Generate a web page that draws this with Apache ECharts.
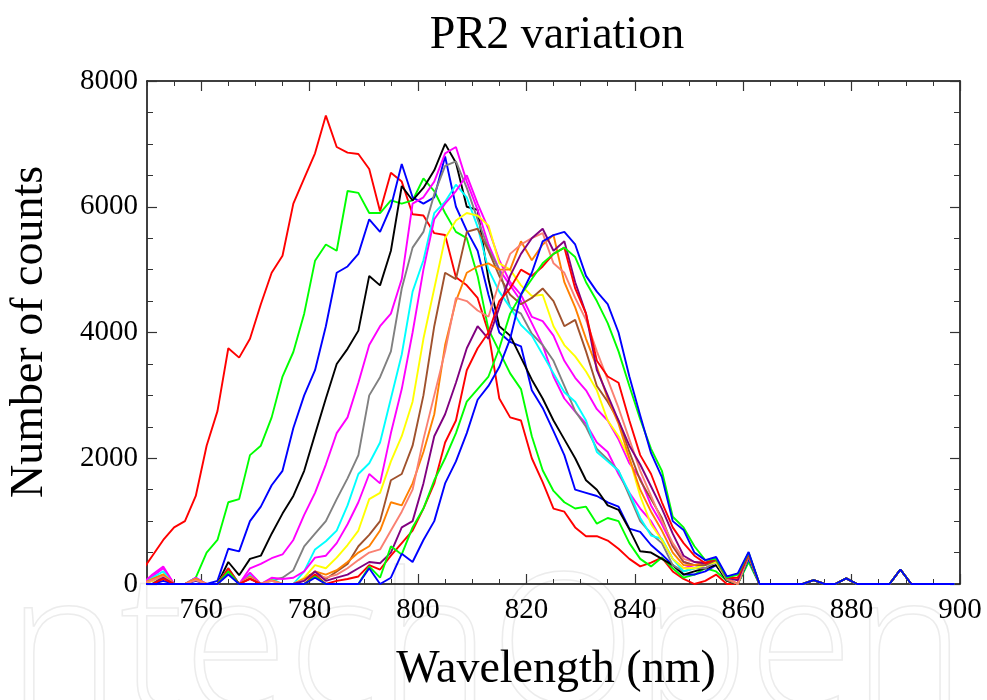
<!DOCTYPE html>
<html>
<head>
<meta charset="utf-8">
<script src="https://cdn.jsdelivr.net/npm/echarts@6/dist/echarts.min.js"></script>
<style>html,body{margin:0;padding:0;background:#fff;}#chart{width:987px;height:700px;}</style>
</head>
<body>
<div id="chart"></div>
<script>
// Wavelength grid (nm) shared by all spectra
const wavelengths = [749, 751, 753, 755, 757, 759, 761, 763, 765, 767, 769,
  771, 773, 775, 777, 779, 781, 783, 785, 787, 789,
  791, 793, 795, 797, 799, 801, 803, 805, 807, 809,
  811, 813, 815, 817, 819, 821, 823, 825, 827, 829,
  831, 833, 835, 837, 839, 841, 843, 845, 847, 849,
  851, 853, 855, 857, 859, 861, 863, 865];
// Common tail (no signal, a few hot-pixel spikes)
const tailWavelengths = [867, 869, 871, 873, 875, 877, 879, 881, 883, 885, 887, 889, 891, 893, 895, 897, 899];
const tailCounts = [0, 0, 0, 60, 0, 0, 90, 0, 0, 0, 0, 230, 0, 0, 0, 0, 0];

const xTickLabels = [760, 780, 800, 820, 840, 860, 880, 900];

const countsRed1 = [200, 450, 700, 900, 1000, 1400, 2200, 2750, 3750, 3600, 3900,
  4450, 4950, 5220, 6050, 6450, 6850, 7450, 6950, 6860, 6840,
  6600, 5930, 6540, 6400, 5880, 5860, 5580, 5550, 4880, 4750,
  4550, 4000, 2950, 2650, 2600, 2000, 1620, 1200, 1150, 900,
  760, 760, 690, 560, 400, 280, 340, 420, 200, 80,
  0, 50, 150, 0, 0, 400, 0, 0];
const countsGreen1 = [0, 80, 150, 0, 0, 100, 500, 700, 1300, 1350, 2050,
  2200, 2650, 3300, 3690, 4300, 5140, 5400, 5300, 6250, 6220,
  5900, 5900, 6100, 6050, 6100, 6450, 6250, 5900, 5600, 5500,
  4900, 4050, 3700, 3350, 3100, 2350, 1810, 1480, 1300, 1200,
  1230, 960, 1050, 1000, 650, 400, 280, 420, 250, 100,
  150, 250, 200, 50, 0, 350, 0, 0];
const countsBlue1 = [0, 0, 50, 0, 0, 50, 0, 50, 560, 520, 1000,
  1230, 1570, 1800, 2480, 3000, 3400, 4100, 4950, 5050, 5250,
  5800, 5600, 6000, 6680, 6150, 6050, 6150, 6800, 6000, 5620,
  5300, 4600, 4000, 3850, 3780, 3080, 2800, 2430, 2050, 1500,
  1450, 1400, 1300, 1230, 880, 830, 620, 470, 300, 150,
  150, 200, 300, 60, 0, 400, 0, 0];
const countsBlack = [0, 0, 100, 0, 0, 0, 0, 0, 350, 140, 400,
  450, 800, 1120, 1400, 1800, 2380, 2950, 3500, 3740, 4030,
  4900, 4750, 5300, 6330, 6100, 6300, 6580, 7000, 6700, 6000,
  5950, 4850, 4100, 3950, 3600, 3250, 2950, 2600, 2300, 2000,
  1650, 1500, 1250, 1180, 870, 520, 500, 400, 300, 150,
  200, 250, 300, 50, 0, 450, 0, 0];
const countsMagenta1 = [0, 120, 250, 0, 0, 100, 0, 0, 200, 0, 250,
  320, 410, 470, 700, 1100, 1450, 1900, 2400, 2650, 3200,
  3800, 4100, 4300, 4850, 6050, 6150, 6400, 6850, 6950, 6400,
  5950, 5400, 5000, 4750, 4500, 4150, 3800, 3300, 2950, 2740,
  2550, 2250, 2100, 1750, 1450, 1200, 1000, 700, 400, 250,
  300, 250, 350, 80, 0, 450, 0, 0];
const countsGray = [0, 50, 150, 0, 0, 80, 0, 0, 250, 0, 150,
  0, 60, 100, 220, 600, 800, 1000, 1350, 1680, 2050,
  3000, 3290, 3700, 4700, 5350, 5600, 6200, 6650, 6720, 6300,
  5800, 5330, 5000, 4400, 4300, 3980, 3800, 3550, 3150, 2750,
  2500, 2150, 1980, 1800, 1400, 1000, 800, 650, 300, 200,
  250, 250, 350, 60, 0, 450, 0, 0];
const countsCyan = [0, 100, 200, 0, 0, 100, 0, 0, 250, 0, 150,
  0, 80, 0, 0, 200, 550, 680, 850, 1250, 1750,
  1920, 2250, 2950, 3650, 4650, 5150, 5900, 6080, 6350, 6150,
  5680, 5000, 4650, 4400, 4120, 3950, 3650, 3350, 3050, 2900,
  2600, 2100, 1950, 1800, 1450, 1050, 770, 720, 400, 200,
  250, 300, 350, 80, 0, 450, 0, 0];
const countsMagenta2 = [0, 150, 280, 0, 0, 100, 0, 0, 220, 0, 180,
  0, 100, 80, 100, 200, 420, 450, 650, 950, 1300,
  1750, 1600, 2400, 3100, 4000, 5000, 5800, 6050, 6250, 6500,
  6050, 5650, 5150, 4800, 4600, 4250, 4180, 3950, 3550, 3280,
  3080, 2780, 2600, 2300, 1920, 1680, 1250, 950, 600, 350,
  300, 300, 380, 80, 0, 450, 0, 0];
const countsYellow = [0, 50, 150, 0, 0, 80, 0, 0, 200, 0, 100,
  0, 50, 0, 0, 100, 300, 250, 420, 620, 850,
  1350, 1450, 1950, 2350, 2900, 3900, 4700, 5500, 5780, 5900,
  5860, 5700, 5100, 5000, 4750, 4580, 4600, 4100, 3800, 3620,
  3380, 3080, 2600, 2350, 2000, 1400, 950, 700, 400, 250,
  250, 300, 350, 80, 0, 450, 0, 0];
const countsBrown = [0, 0, 120, 0, 0, 60, 0, 0, 200, 0, 100,
  0, 0, 0, 0, 60, 200, 80, 200, 320, 600,
  780, 1000, 1650, 1750, 2200, 3000, 4100, 4950, 4850, 5600,
  5650, 5300, 4900, 4600, 4450, 4550, 4700, 4500, 4100, 4200,
  3700, 3150, 2900, 2600, 2100, 1650, 1350, 1050, 600, 350,
  300, 300, 380, 80, 0, 450, 0, 0];
const countsOrange = [0, 80, 150, 0, 0, 80, 0, 0, 200, 0, 120,
  0, 60, 0, 0, 80, 200, 150, 220, 350, 500,
  600, 850, 1300, 1250, 1600, 2100, 2700, 3800, 4500, 4950,
  5050, 5100, 5000, 5000, 5450, 5150, 5400, 5550, 4800, 4400,
  3900, 3450, 2950, 2550, 2000, 1500, 1150, 850, 500, 300,
  300, 350, 400, 90, 0, 480, 0, 0];
const countsSalmon = [0, 60, 120, 0, 0, 60, 0, 0, 180, 0, 100,
  0, 50, 0, 0, 60, 150, 100, 150, 250, 380,
  500, 550, 850, 1150, 1500, 2300, 3000, 3700, 4550, 4500,
  4350, 4250, 4800, 5250, 5400, 5500, 5580, 5100, 4950, 4550,
  4200, 3700, 3250, 2800, 2300, 1800, 1400, 1000, 650, 400,
  350, 350, 400, 90, 0, 480, 0, 0];
const countsPurple = [0, 0, 100, 0, 0, 0, 0, 0, 200, 0, 80,
  0, 0, 0, 0, 50, 200, 50, 100, 150, 250,
  350, 330, 500, 900, 1000, 1600, 2350, 2700, 3200, 3750,
  4100, 3900, 4400, 4900, 5250, 5500, 5650, 5300, 5450, 4800,
  4300, 3400, 3000, 2600, 2200, 1900, 1550, 1200, 800, 450,
  350, 330, 400, 100, 60, 480, 0, 0];
const countsRed2 = [0, 0, 80, 0, 0, 0, 0, 0, 250, 0, 80,
  0, 0, 0, 0, 0, 150, 0, 50, 80, 120,
  300, 230, 450, 650, 850, 1200, 1600, 2250, 2600, 3400,
  3750, 4000, 4500, 4700, 5000, 4900, 5050, 5250, 5350, 4700,
  4300, 3550, 3300, 3200, 2600, 2050, 1750, 1300, 900, 650,
  450, 330, 400, 100, 100, 480, 0, 0];
const countsGreen2 = [0, 0, 0, 0, 0, 0, 0, 0, 200, 0, 0,
  0, 0, 0, 0, 0, 120, 0, 0, 0, 0,
  280, 100, 600, 470, 900, 1200, 1650, 2000, 2400, 2900,
  3100, 3300, 3750, 4300, 4600, 4850, 5100, 5250, 5350, 5200,
  4800, 4500, 4150, 3700, 3150, 2620, 2150, 1800, 1070, 900,
  600, 380, 400, 100, 150, 500, 0, 0];
const countsBlue2 = [0, 0, 0, 0, 0, 0, 0, 0, 150, 0, 0,
  0, 0, 0, 0, 0, 100, 0, 0, 0, 0,
  250, 0, 100, 480, 350, 700, 1000, 1600, 1950, 2400,
  2930, 3150, 3450, 3900, 4600, 4950, 5450, 5550, 5600, 5400,
  4900, 4650, 4450, 4000, 3300, 2680, 2080, 1700, 1000, 860,
  500, 380, 430, 120, 170, 510, 0, 0];

const seriesList = [
  ['#ff0000', countsRed1], ['#00ff00', countsGreen1], ['#0000ff', countsBlue1],
  ['#000000', countsBlack], ['#ff00ff', countsMagenta1], ['#808080', countsGray],
  ['#00ffff', countsCyan], ['#ff00ff', countsMagenta2], ['#ffff00', countsYellow],
  ['#a0522d', countsBrown], ['#ff8000', countsOrange], ['#fa8072', countsSalmon],
  ['#800080', countsPurple], ['#ff0000', countsRed2], ['#00ff00', countsGreen2],
  ['#0000ff', countsBlue2]
];

const allX = wavelengths.concat(tailWavelengths);
const series = seriesList.map(function (s, i) {
  const ys = s[1].concat(tailCounts);
  return {
    type: 'line', name: 'S' + (i + 1), xAxisIndex: 0, yAxisIndex: 0,
    data: allX.map(function (x, k) { return [x, ys[k]]; }),
    showSymbol: false, symbol: 'none', smooth: false,
    lineStyle: { color: s[0], width: 1.9 }, itemStyle: { color: s[0] },
    animation: false, z: 2 + i
  };
});

const serif = '"Liberation Serif", "Times New Roman", serif';
const axisBase = { min: 750, max: 900, type: 'value', splitLine: { show: false } };

const chart = echarts.init(document.getElementById('chart'), null, { renderer: 'canvas' });
chart.setOption({
  animation: false,
  backgroundColor: '#fff',
  grid: { left: 147, right: 27, top: 81, bottom: 116, containLabel: false },
  xAxis: [
    Object.assign({}, axisBase, {
      position: 'bottom', interval: 5,
      axisLine: { show: true, lineStyle: { color: '#000', width: 1.5 } },
      axisTick: { show: true, inside: true, length: 5, lineStyle: { color: '#333', width: 1 } },
      axisLabel: { show: false }
    }),
    Object.assign({}, axisBase, {
      position: 'bottom',
      axisLine: { show: false },
      axisTick: { show: true, inside: true, length: 10, customValues: xTickLabels, lineStyle: { color: '#333', width: 1.2 } },
      axisLabel: { show: true, customValues: xTickLabels, fontSize: 29, fontFamily: serif, color: '#000', margin: 12,
        formatter: function (v) { return String(v); } }
    }),
    Object.assign({}, axisBase, {
      position: 'top', interval: 5,
      axisLine: { show: true, lineStyle: { color: '#000', width: 1.5 } },
      axisTick: { show: true, inside: true, length: 5, lineStyle: { color: '#333', width: 1 } },
      axisLabel: { show: false }
    }),
    Object.assign({}, axisBase, {
      position: 'top',
      axisLine: { show: false },
      axisTick: { show: true, inside: true, length: 10, customValues: xTickLabels, lineStyle: { color: '#333', width: 1.2 } },
      axisLabel: { show: false }
    })
  ],
  yAxis: [
    {
      type: 'value', position: 'left', min: 0, max: 8000, interval: 2000,
      axisLine: { show: true, lineStyle: { color: '#000', width: 1.5 } },
      axisTick: { show: true, inside: true, length: 10, lineStyle: { color: '#333', width: 1.2 } },
      minorTick: { show: true, splitNumber: 4, length: 6, lineStyle: { color: '#333', width: 1 } },
      axisLabel: { fontSize: 29, fontFamily: serif, color: '#000', margin: 9,
        formatter: function (v) { return String(v); } },
      splitLine: { show: false }, minorSplitLine: { show: false }
    },
    {
      type: 'value', position: 'right', min: 0, max: 8000, interval: 2000,
      axisLine: { show: true, lineStyle: { color: '#000', width: 1.5 } },
      axisTick: { show: true, inside: true, length: 10, lineStyle: { color: '#333', width: 1.2 } },
      minorTick: { show: true, splitNumber: 4, length: 6, lineStyle: { color: '#333', width: 1 } },
      axisLabel: { show: false },
      splitLine: { show: false }, minorSplitLine: { show: false }
    }
  ],
  graphic: [
    { type: 'text', x: -40, y: 560, z: -10, silent: true,
      style: { text: 'IntechOpen', font: '300 190px "Open Sans", sans-serif', fill: 'rgba(0,0,0,0)', stroke: '#ececec', lineWidth: 1.5, align: 'left', verticalAlign: 'top' } },
    { type: 'text', x: 557, y: 36, z: 50,
      style: { text: 'PR2 variation', font: '46px ' + serif, fill: '#000', align: 'center', verticalAlign: 'middle', textAlign: 'center', textVerticalAlign: 'middle' } },
    { type: 'text', x: 30, y: 332, rotation: Math.PI / 2, z: 50,
      style: { text: 'Number of counts', font: '46px ' + serif, fill: '#000', align: 'center', verticalAlign: 'middle', textAlign: 'center', textVerticalAlign: 'middle' } },
    { type: 'text', x: 556, y: 670, z: 50,
      style: { text: 'Wavelength (nm)', font: '46px ' + serif, fill: '#000', align: 'center', verticalAlign: 'middle', textAlign: 'center', textVerticalAlign: 'middle' } }
  ],
  series: series
});
</script>
</body>
</html>
